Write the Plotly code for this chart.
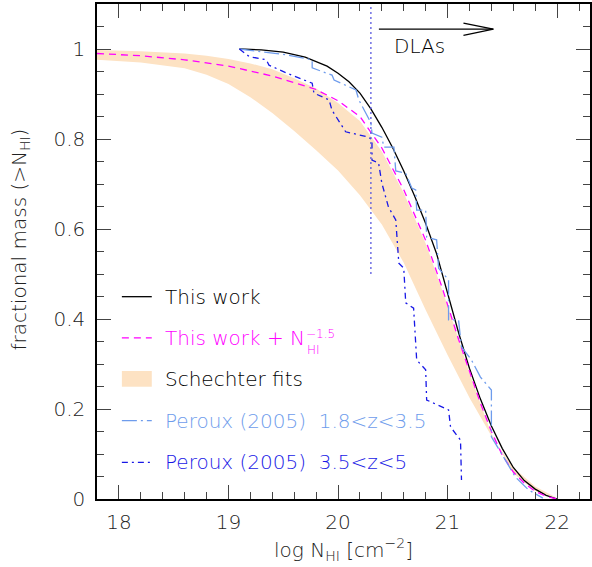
import plotly.graph_objects as go

# ---------------- data ----------------
black_x = [19.1, 19.3, 19.5, 19.7, 19.9, 20.0, 20.1, 20.2, 20.3, 20.4, 20.5, 20.6, 20.7,
           20.8, 20.9, 21.0, 21.1, 21.2, 21.3, 21.4, 21.5, 21.6, 21.7, 21.8, 21.9, 22.0]
black_y = [1.0, 0.998, 0.993, 0.982, 0.962, 0.946, 0.927, 0.902, 0.867, 0.826, 0.78, 0.729, 0.673,
           0.612, 0.545, 0.455, 0.37, 0.29, 0.222, 0.162, 0.112, 0.07, 0.041, 0.022, 0.008, 0.0]

mag_x = [17.8, 18.2, 18.6, 19.0, 19.4, 19.8, 20.0, 20.2, 20.4, 20.6, 20.8, 20.95, 21.1,
         21.2, 21.3, 21.4, 21.5, 21.6, 21.7, 21.8, 21.9, 22.0]
mag_y = [0.99, 0.985, 0.976, 0.962, 0.94, 0.91, 0.885, 0.85, 0.78, 0.687, 0.575, 0.47, 0.355,
         0.285, 0.213, 0.15, 0.097, 0.06, 0.035, 0.017, 0.006, 0.0]

band_x = [17.8, 18.2, 18.6, 18.8, 19.0, 19.2, 19.4, 19.6, 19.8, 20.0, 20.2, 20.4, 20.6,
          20.8, 21.0, 21.2, 21.4, 21.6, 21.8, 22.0]
band_hi = [0.998, 0.995, 0.99, 0.985, 0.978, 0.968, 0.955, 0.935, 0.912, 0.88, 0.84, 0.772, 0.68,
           0.568, 0.43, 0.28, 0.145, 0.057, 0.018, 0.002]
band_lo = [0.976, 0.97, 0.957, 0.943, 0.922, 0.893, 0.858, 0.818, 0.775, 0.73, 0.675, 0.61, 0.525,
           0.42, 0.32, 0.225, 0.14, 0.07, 0.028, 0.002]

p1_x = [19.1, 19.527, 19.764, 19.764, 19.945, 19.964, 20.164, 20.19, 20.3, 20.31, 20.4, 20.418,
        20.51, 20.527, 20.618, 20.673, 20.709, 20.718, 20.8, 20.809, 20.9, 20.918, 21.009, 21.009,
        21.1, 21.127, 21.218, 21.3, 21.4, 21.4, 21.49, 21.618, 21.74, 21.87]
p1_y = [1.0, 0.987, 0.976, 0.958, 0.942, 0.931, 0.909, 0.887, 0.836, 0.813, 0.804, 0.782,
        0.782, 0.729, 0.724, 0.691, 0.687, 0.642, 0.642, 0.582, 0.576, 0.513, 0.487, 0.398,
        0.398, 0.338, 0.309, 0.271, 0.242, 0.138, 0.102, 0.049, 0.02, 0.002]

p2_x = [19.1, 19.19, 19.345, 19.37, 19.527, 19.764, 19.78, 19.918, 19.945, 20.036, 20.07,
        20.28, 20.31, 20.31, 20.37, 20.4, 20.46, 20.527, 20.555, 20.6, 20.618, 20.69, 20.718,
        20.8, 20.809, 21.009, 21.027, 21.118, 21.127]
p2_y = [1.0, 0.983, 0.976, 0.964, 0.947, 0.924, 0.902, 0.887, 0.864, 0.831, 0.816,
        0.804, 0.798, 0.753, 0.747, 0.702, 0.649, 0.62, 0.524, 0.513, 0.436, 0.424, 0.309,
        0.287, 0.22, 0.198, 0.16, 0.131, 0.042]

dla_x = 20.3

x_ticks = [18, 19, 20, 21, 22]
y_ticks = [0, 0.2, 0.4, 0.6, 0.8, 1]
y_ticktext = ["0", "0.2", "0.4", "0.6", "0.8", "1"]

# ---------------- styles ----------------
FONT = "DejaVu Sans"
FW = 200
FS = 20
C_BLACK = "#000000"
C_MAG = "#FF00FF"
C_BAND = "#FDE2C3"
C_LB = "#6E9CEC"
C_DB = "#1818E6"
C_DOT = "#5A5ADF"
C_TXT = "#222222"


def fnt(size=FS, color=C_BLACK):
    return dict(family=FONT, size=size, color=color, weight=FW)


fig = go.Figure()

fig.add_trace(go.Scatter(
    x=band_x + band_x[::-1], y=band_hi + band_lo[::-1], fill="toself",
    fillcolor=C_BAND, line=dict(width=0), mode="lines", hoverinfo="skip"))
fig.add_trace(go.Scatter(x=black_x, y=black_y, mode="lines",
                         line=dict(color=C_BLACK, width=1.3)))
fig.add_trace(go.Scatter(x=mag_x, y=mag_y, mode="lines",
                         line=dict(color=C_MAG, width=1.3, dash="7px,5px")))
fig.add_trace(go.Scatter(x=p1_x, y=p1_y, mode="lines",
                         line=dict(color=C_LB, width=1.3, dash="15px,4px,2px,4px")))
fig.add_trace(go.Scatter(x=p2_x, y=p2_y, mode="lines",
                         line=dict(color=C_DB, width=1.3, dash="6px,4px,2px,4px")))
fig.add_trace(go.Scatter(x=[dla_x, dla_x], y=[0.5, 1.1], mode="lines",
                         line=dict(color=C_DOT, width=1.3, dash="2px,3px")))

# arrow "DLAs"
ay = 1.044
fig.add_trace(go.Scatter(x=[20.373, 21.418], y=[ay, ay], mode="lines",
                         line=dict(color=C_BLACK, width=1.3)))
fig.add_trace(go.Scatter(x=[21.145, 21.418, 21.145], y=[ay + 0.0135, ay, ay - 0.0135],
                         mode="lines", line=dict(color=C_BLACK, width=1.3)))
fig.add_annotation(x=20.74, y=1.007, text="DLAs", showarrow=False, font=fnt())

# ---------------- manual legend ----------------
lx0, lx1, tx = 18.027, 18.3, 18.4
rows = [0.4496, 0.358, 0.267, 0.174, 0.0816]
fig.add_trace(go.Scatter(x=[lx0, lx1], y=[rows[0]] * 2, mode="lines",
                         line=dict(color=C_BLACK, width=1.3)))
fig.add_trace(go.Scatter(x=[lx0, lx1], y=[rows[1]] * 2, mode="lines",
                         line=dict(color=C_MAG, width=1.3, dash="7px,5px")))
fig.add_shape(type="rect", x0=lx0, x1=lx1, y0=rows[2] - 0.0175, y1=rows[2] + 0.0175,
              fillcolor=C_BAND, line=dict(width=0), layer="below")
fig.add_trace(go.Scatter(x=[lx0, lx1], y=[rows[3]] * 2, mode="lines",
                         line=dict(color=C_LB, width=1.3, dash="15px,4px,2px,4px")))
fig.add_trace(go.Scatter(x=[lx0, lx1], y=[rows[4]] * 2, mode="lines",
                         line=dict(color=C_DB, width=1.3, dash="6px,4px,2px,4px")))

labels = [("This work", C_BLACK), ("This work + N", C_MAG), ("Schechter fits", C_BLACK),
          ("Peroux (2005)  1.8<z<3.5", C_LB), ("Peroux (2005)  3.5<z<5", C_DB)]
for (t, c), yy in zip(labels, rows):
    fig.add_annotation(x=tx, y=yy, text=t, showarrow=False, xanchor="left", yanchor="middle",
                       font=fnt(FS, c))
fig.add_annotation(x=19.70, y=0.331, text="HI", showarrow=False, xanchor="left",
                   yanchor="middle", font=fnt(12, C_MAG))
fig.add_annotation(x=19.69, y=0.366, text="\u22121.5", showarrow=False, xanchor="left",
                   yanchor="middle", font=fnt(12, C_MAG))

# y-axis title as annotation (centred like the reference)
fig.add_annotation(xref="paper", yref="paper", x=0, y=0.5, xshift=-78, yshift=12,
                   text="fractional mass (>N<sub>HI</sub>)", textangle=-90, showarrow=False,
                   xanchor="center", yanchor="middle", font=fnt(FS, C_TXT))

axis_common = dict(showline=True, linecolor="black", linewidth=1.5, mirror="allticks",
                   ticks="inside", ticklen=14, tickwidth=1.2, tickcolor="#444",
                   showgrid=False, zeroline=False, tickfont=fnt(FS, C_TXT))

fig.update_layout(
    width=592, height=567,
    margin=dict(l=97, r=0, t=4, b=68),
    paper_bgcolor="white", plot_bgcolor="white",
    showlegend=False,
    xaxis=dict(range=[17.8, 22.3], tickvals=x_ticks, ticktext=[str(v) for v in x_ticks],
               minor=dict(dtick=0.2, tick0=18, ticks="inside", ticklen=7, tickwidth=1.2,
                          tickcolor="#444", showgrid=False),
               title=dict(text="log N<sub>HI</sub> [cm<sup>\u22122</sup>]",
                          font=fnt(FS, C_TXT), standoff=10),
               ticklabelstandoff=4,
               **axis_common),
    yaxis=dict(range=[0, 1.1], tickvals=y_ticks, ticktext=y_ticktext,
               minor=dict(dtick=0.05, tick0=0, ticks="inside", ticklen=7, tickwidth=1.2,
                          tickcolor="#444", showgrid=False),
               ticklabelstandoff=6,
               **axis_common),
)

fig.write_html("out.html")
